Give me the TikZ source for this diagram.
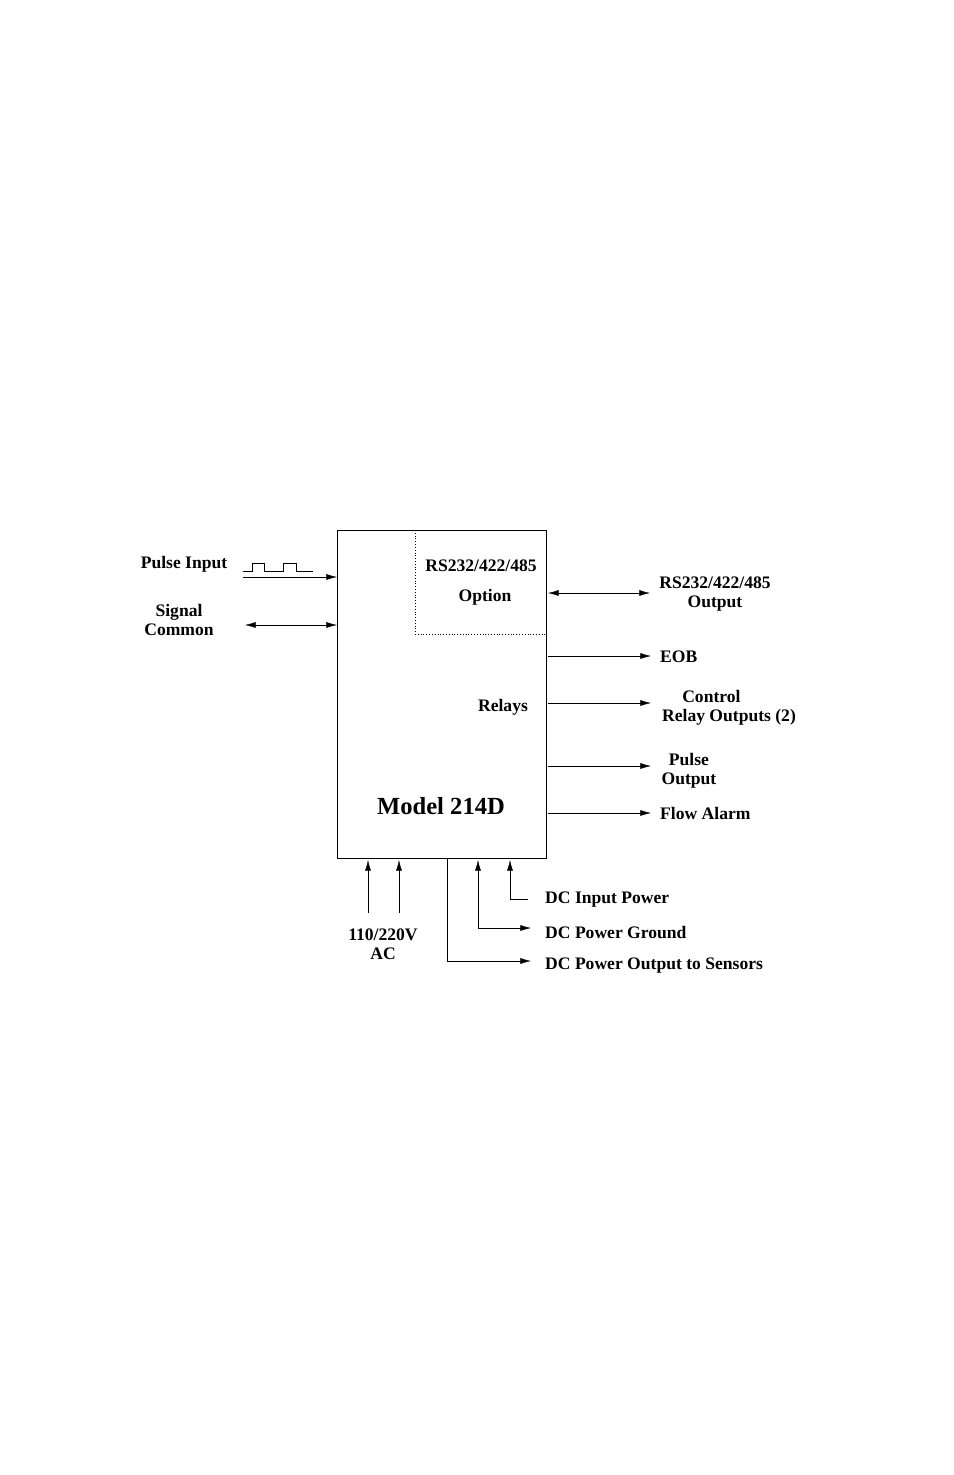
\documentclass[tikz,border=0pt]{standalone}
\usepackage{fontspec}
\setmainfont{Liberation Serif}
\usetikzlibrary{arrows.meta}
\begin{document}
\begin{tikzpicture}[x=0.03cm,y=-0.03cm,
    lbl/.style={font=\fontsize{15}{17}\selectfont\bfseries,inner sep=0pt,align=center},
    sig/.style={-{Latex[length=9pt,width=5pt]}},
    dsig/.style={{Latex[length=9pt,width=5pt]}-{Latex[length=9pt,width=5pt]}}]
    \useasboundingbox (0,0) rectangle (954,1475);
    % main unit
    \draw[thick] (337,530) rectangle (546,858);
    \draw[dotted] (415,530) -- (415,634) -- (546,634);
    \coordinate (unitL1) at (337,577);
    \coordinate (unitL2) at (337,625);
    \node[lbl] (rs) at (481,566) {RS232/422/485};
    \node[lbl] (opt) at (485,597) {Option};
    \node[lbl] (relays) at (503,707) {Relays};
    \node[lbl,font=\fontsize{21}{24}\selectfont\bfseries] (model) at (441,806) {Model 214D};
    % inputs left
    \node[lbl] (pin) at (184,564) {Pulse Input};
    \node[lbl] (sig) at (179,620) {Signal\\[-1pt]Common};
    \draw (243,571) -- (252,571) -- (252,563) -- (264,563) -- (264,571) -- (283,571)
          -- (283,563) -- (296,563) -- (296,571) -- (313,571);
    \coordinate (pinS) at (243,577);
    \coordinate (sigS) at (245,625);
    \draw[sig] (pinS) -- (unitL1);
    \draw[dsig] (sigS) -- (unitL2);
    % outputs right
    \node[lbl] (rsout) at (715,594) {RS232/422/485\\[-1pt]Output};
    \node[lbl,anchor=west] (eob) at (660,657) {EOB};
    \node[lbl] (ctl) at (729,708) {\hspace*{-30pt}Control\\[-1pt]Relay Outputs (2)};
    \node[lbl] (pout) at (689,771) {Pulse\\[-1pt]Output};
    \node[lbl,anchor=west] (flow) at (660,813) {Flow Alarm};
    \foreach \y/\e in {656/651,703/651,766/651,813/651}
        \draw[sig] (548,\y) -- (\e,\y);
    \draw[dsig] (548,593) -- (650,593);
    % bottom connections
    \node[lbl] (ac) at (383,944) {110/220V\\[-1pt]AC};
    \node[lbl,anchor=west] (dcin) at (545,900) {DC Input Power};
    \node[lbl,anchor=west] (dcgnd) at (545,932) {DC Power Ground};
    \node[lbl,anchor=west] (dcout) at (545,966) {DC Power Output to Sensors};
    \foreach \x in {368,399}
        \draw[sig] (\x,913) -- (\x,860);
    \draw[sig] (528,899) -- (510,899) -- (510,860);
    \draw[dsig] (478,860) -- (478,928) -- (531,928);
    \draw[sig] (447,858) -- (447,961) -- (531,961);
\end{tikzpicture}
\end{document}
